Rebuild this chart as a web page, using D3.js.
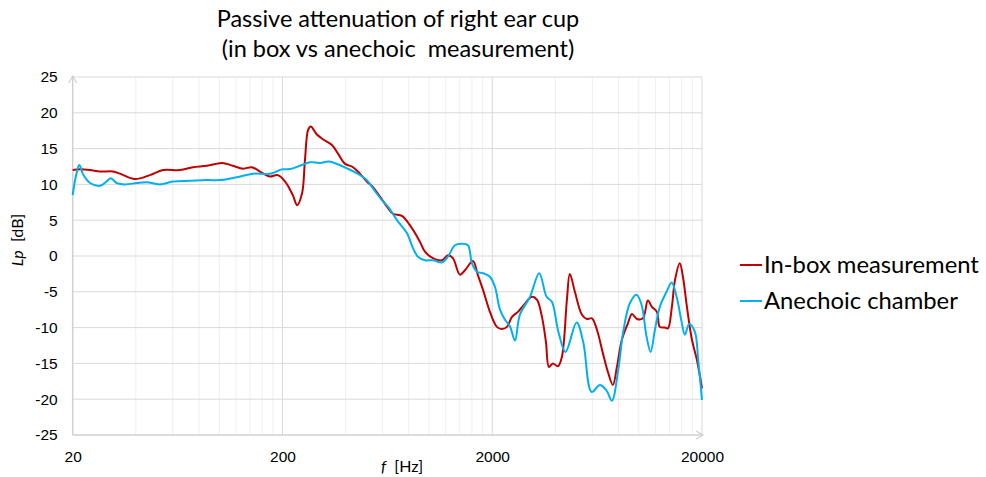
<!DOCTYPE html>
<html>
<head>
<meta charset="utf-8">
<title>Passive attenuation</title>
<script src="https://cdn.jsdelivr.net/npm/d3@7"></script>
<style>
body { margin: 0; background: #fff; }
svg { font-family: Lato, "Open Sans", sans-serif; }
</style>
</head>
<body>
<script>
// In-box measurement (red)
var inBoxFreq = [20, 21.7, 24.2, 27, 31.1, 33.6, 39.6, 46.7, 53.9, 65, 74.9, 87.3, 103, 116, 130, 143, 160, 174, 190, 206,
  224, 235, 248, 256, 265, 273, 291, 312, 344, 368, 397, 434, 468, 505, 540, 583, 630, 673, 742, 810, 904,
  956, 1043, 1151, 1230, 1299, 1402, 1482, 1618, 1710, 1806, 1950, 2106, 2224, 2350, 2484, 2652, 2802,
  3092, 3266, 3452, 3606, 3728, 3892, 4112, 4296, 4540, 4688, 4956, 5354, 5656, 5972, 6312, 6740, 7120,
  7520, 7860, 8300, 8870, 9270, 9800, 10460, 11040, 11540, 12190, 12590, 13310, 13760, 14370, 14860,
  15670, 16220, 16950, 17910, 18910, 20000];
var inBoxLp = [12.0, 12.1, 12.0, 11.8, 11.8, 11.5, 10.75, 11.3, 12.0, 12.0, 12.4, 12.6, 13.0, 12.6, 12.2, 12.4, 11.6, 11.1, 11.3, 10.4,
  8.5, 7.1, 8.75, 13.4, 17.6, 18.1, 17.0, 16.3, 15.5, 14.3, 12.9, 12.4, 11.5, 10.4, 9.6, 8.3, 6.9, 5.9, 5.6, 4.3, 2.0,
  0.6, -0.3, -0.6, 0.1, -0.3, -2.6, -2.0, -0.7, -2.7, -4.7, -7.8, -9.9, -10.2, -9.9, -8.5, -7.8, -7.0,
  -5.7, -6.1, -8.5, -12.0, -15.5, -15.0, -15.4, -14.1, -6.1, -2.5, -5.0, -8.2, -8.8, -8.7, -10.3, -13.6, -16.2,
  -18.0, -15.5, -11.7, -9.4, -8.1, -8.8, -8.7, -6.2, -7.1, -7.8, -9.9, -10.0, -10.1, -7.1, -3.4,
  -1.0, -2.9, -7.1, -11.7, -14.5, -18.5];

// Anechoic chamber (blue)
var anechoicFreq = [20, 20.7, 21.5, 22.5, 24.2, 27, 29, 30.4, 32.4, 35.5, 40.4, 45.1, 52.1, 60.1, 72.4, 87.3, 101, 121, 145, 169, 180,
  198, 217, 242, 270, 302, 333, 364, 406, 453, 505, 540, 596, 637, 703, 784, 838, 885, 956, 1043, 1151, 1230,
  1328, 1434, 1532, 1600, 1691, 1806, 1950, 2060, 2178, 2300, 2428, 2566, 2710, 3027, 3350, 3634, 3850, 4128,
  4468, 5050, 5430, 5956, 6520, 7018, 7440, 7974, 8420, 9058, 9750, 10300, 10890, 11380, 11930, 12590,
  13550, 14330, 15140, 15990, 16570, 17380, 18500, 19180, 20000];
var anechoicLp = [8.5, 11.1, 12.7, 11.3, 10.2, 9.8, 10.4, 10.85, 10.2, 10.0, 10.2, 10.3, 10.0, 10.4, 10.5, 10.6, 10.6, 11.0, 11.5, 11.45, 11.6,
  12.1, 12.15, 12.6, 13.1, 13.0, 13.2, 12.85, 12.25, 11.55, 10.6, 9.45, 7.8, 6.9, 5.0, 3.2, 1.1, -0.1, -0.6, -0.6, -0.9, -0.1,
  1.5, 1.7, 1.5, -1.0, -2.2, -2.4, -2.9, -4.3, -7.5, -8.9, -9.8, -11.8, -8.2, -5.7, -2.4, -5.7, -6.4, -10.5,
  -13.4, -9.3, -12.0, -19.0, -18.0, -18.8, -20.2, -15.9, -10.6, -6.6, -5.4, -6.8, -11.3, -13.4, -10.3, -7.1,
  -5.0, -3.7, -5.7, -9.2, -11.0, -9.5, -10.6, -14.5, -20.1];

var xTicks = [20, 200, 2000, 20000];
var xMinor = [40, 60, 80, 100, 120, 140, 160, 180, 400, 600, 800, 1000, 1200, 1400, 1600, 1800,
  4000, 6000, 8000, 10000, 12000, 14000, 16000, 18000];
var yTicks = [-25, -20, -15, -10, -5, 0, 5, 10, 15, 20, 25];

var seriesNames = ['In-box measurement', 'Anechoic chamber'];
var seriesColors = ['#C00000', '#00B0F0'];

var width = 986, height = 477;
var svg = d3.select('body').append('svg')
  .attr('width', width)
  .attr('height', height);

var x = d3.scaleLog().domain([20, 20000]).range([72.7, 702]);
var y = d3.scaleLinear().domain([-25, 25]).range([435, 77]);

// grid
svg.append('g').selectAll('line.minor')
  .data(xMinor).enter().append('line')
  .attr('x1', function(d) { return x(d); }).attr('x2', function(d) { return x(d); })
  .attr('y1', y(25)).attr('y2', y(-25))
  .style('stroke', '#efefef').style('stroke-width', 1);

svg.append('g').selectAll('line')
  .data(xTicks.slice(1)).enter().append('line')
  .attr('x1', function(d) { return x(d); }).attr('x2', function(d) { return x(d); })
  .attr('y1', y(25)).attr('y2', y(-25))
  .style('stroke', '#d9d9d9').style('stroke-width', 1);

svg.append('g').selectAll('line')
  .data(yTicks.slice(1)).enter().append('line')
  .attr('x1', x(20)).attr('x2', x(20000))
  .attr('y1', function(d) { return y(d); }).attr('y2', function(d) { return y(d); })
  .style('stroke', '#d9d9d9').style('stroke-width', 1);

// axes
var yAxis = d3.axisLeft(y).tickValues(yTicks).tickFormat(function(d) { return String(d); })
  .tickSize(0).tickPadding(15);
var gy = svg.append('g').attr('transform', 'translate(' + x(20) + ',0)').call(yAxis);
gy.select('.domain').remove();
gy.selectAll('text').style('font-size', '15.5px').style('fill', '#000');

var xAxis = d3.axisBottom(x).tickValues(xTicks).tickFormat(function(d) { return String(d); })
  .tickSize(0).tickPadding(16);
var gx = svg.append('g').attr('transform', 'translate(0,' + y(-25) + ')').call(xAxis);
gx.select('.domain').remove();
gx.selectAll('text').style('font-size', '15.5px').style('fill', '#000');

svg.append('line')
  .attr('x1', x(20)).attr('x2', x(20)).attr('y1', y(-25)).attr('y2', y(25) - 1)
  .style('stroke', '#d0d0d0').style('stroke-width', 1.5);
svg.append('line')
  .attr('x1', x(20)).attr('x2', x(20000) + 1).attr('y1', y(-25)).attr('y2', y(-25))
  .style('stroke', '#d0d0d0').style('stroke-width', 1.5);
svg.append('path')
  .attr('d', 'M' + (x(20) - 4) + ',' + (y(25) + 6) + 'L' + x(20) + ',' + (y(25) - 1) + 'L' + (x(20) + 4) + ',' + (y(25) + 6))
  .style('fill', 'none').style('stroke', '#d0d0d0').style('stroke-width', 1.2);
svg.append('path')
  .attr('d', 'M' + (x(20000) - 6) + ',' + (y(-25) - 4) + 'L' + (x(20000) + 1) + ',' + y(-25) + 'L' + (x(20000) - 6) + ',' + (y(-25) + 4))
  .style('fill', 'none').style('stroke', '#d0d0d0').style('stroke-width', 1.2);

// lines
var line = d3.line()
  .x(function(d) { return x(d[0]); })
  .y(function(d) { return y(d[1]); })
  .curve(d3.curveCatmullRom.alpha(0.5));

var series = [d3.zip(inBoxFreq, inBoxLp), d3.zip(anechoicFreq, anechoicLp)];
svg.append('g').selectAll('path')
  .data(series).enter().append('path')
  .attr('d', line)
  .style('fill', 'none')
  .style('stroke', function(d, i) { return seriesColors[i]; })
  .style('stroke-width', 2)
  .style('stroke-linejoin', 'round');

// title
var title = svg.append('text').attr('text-anchor', 'middle').style('font-size', '23.5px').style('fill', '#000');
title.append('tspan').attr('x', 398).attr('y', 27).text('Passive attenuation of right ear cup');
title.append('tspan').attr('x', 398).attr('y', 57).text('(in box vs anechoic\u00a0 measurement)');

// axis titles
var xt = svg.append('text').attr('x', 381).attr('y', 472).style('font-size', '16px');
xt.append('tspan').style('font-style', 'italic').text('f');
xt.append('tspan').text('\u00a0 [Hz]');

var yt = svg.append('text').attr('transform', 'translate(23,240) rotate(-90)')
  .attr('text-anchor', 'middle').style('font-size', '16px');
yt.append('tspan').style('font-style', 'italic').text('Lp');
yt.append('tspan').text('\u00a0 [dB]');

// legend
var legend = svg.append('g').selectAll('g')
  .data(seriesNames).enter().append('g')
  .attr('transform', function(d, i) { return 'translate(740,' + (265 + i * 36) + ')'; });
legend.append('line')
  .attr('x1', 0).attr('x2', 22).attr('y1', 0).attr('y2', 0)
  .style('stroke', function(d, i) { return seriesColors[i]; })
  .style('stroke-width', 2);
legend.append('text')
  .attr('x', 24).attr('y', 8)
  .style('font-size', '23.8px')
  .text(function(d) { return d; });
</script>
</body>
</html>
